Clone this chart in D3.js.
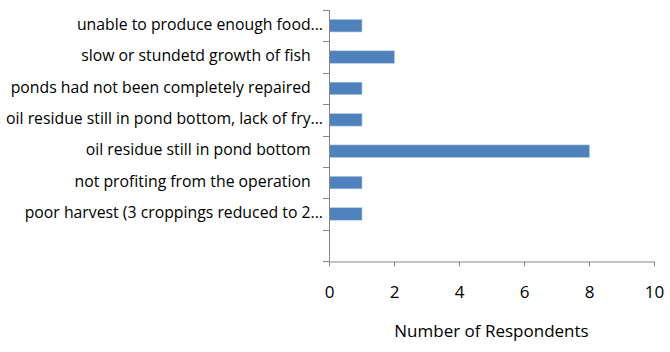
<!DOCTYPE html>
<html>
<head>
<meta charset="utf-8">
<script src="https://cdn.jsdelivr.net/npm/d3@7"></script>
<style>
  body { margin: 0; background: #fff; }
  svg { display: block; font-family: "Open Sans", sans-serif; }
</style>
</head>
<body>
<div id="chart"></div>
<script>
// categories, top to bottom (last slot is empty in the original)
const categories = [
  'unable to produce enough food...',
  'slow or stundetd growth of fish\u00a0\u00a0\u00a0',
  'ponds had not been completely repaired\u00a0\u00a0\u00a0',
  'oil residue still in pond bottom, lack of fry...',
  'oil residue still in pond bottom\u00a0\u00a0\u00a0',
  'not profiting from the operation\u00a0\u00a0\u00a0',
  'poor harvest (3 croppings reduced to 2...',
  ''
];
const respondents = [1, 2, 1, 1, 8, 1, 1, null];
const xTicks = [0, 2, 4, 6, 8, 10];
const xTitle = 'Number of Respondents';

const width = 670, height = 352;
const margin = { top: 10, left: 329, right: 16, bottom: 91 };

const svg = d3.select('#chart').append('svg')
  .attr('width', width)
  .attr('height', height);

const x = d3.scaleLinear()
  .domain([0, 10])
  .range([margin.left, width - margin.right]);

const y = d3.scaleBand()
  .domain(d3.range(categories.length))
  .range([margin.top, height - margin.bottom])
  .paddingInner(0.6)
  .paddingOuter(0.3);

const axisColor = '#868686';
const step = y.step();

// bars
svg.append('g')
  .selectAll('rect')
  .data(respondents.map((v, i) => ({ v, i })).filter(d => d.v != null))
  .enter().append('rect')
  .attr('x', x(0) + 0.5)
  .attr('y', d => y(d.i))
  .attr('width', d => x(d.v) - x(0))
  .attr('height', y.bandwidth())
  .attr('fill', '#4f81bd')
  .attr('stroke', '#b9cde5')
  .attr('stroke-width', 0.6);

// y axis: line with ticks at band boundaries
const yAxis = svg.append('g');
yAxis.append('line')
  .attr('x1', x(0) + 0.5).attr('x2', x(0) + 0.5)
  .attr('y1', margin.top).attr('y2', height - margin.bottom)
  .attr('stroke', axisColor);
yAxis.selectAll('.ytick')
  .data(d3.range(categories.length + 1))
  .enter().append('line')
  .attr('x1', x(0) - 6).attr('x2', x(0) + 0.5)
  .attr('y1', i => Math.round(margin.top + i * step) + 0.5)
  .attr('y2', i => Math.round(margin.top + i * step) + 0.5)
  .attr('stroke', axisColor);

yAxis.selectAll('.ylabel')
  .data(categories)
  .enter().append('text')
  .attr('x', x(0) - 6)
  .attr('y', (d, i) => y(i) + y.bandwidth() / 2)
  .attr('text-anchor', 'end')
  .attr('dominant-baseline', 'middle')
  .attr('font-size', 15.8)
  .attr('fill', '#000')
  .text(d => d);

// x axis
const xAxis = svg.append('g')
  .attr('transform', `translate(0,${Math.round(height - margin.bottom) + 0.5})`)
  .call(d3.axisBottom(x).tickValues(xTicks).tickSize(5).tickPadding(19).tickSizeOuter(0));
xAxis.select('.domain').attr('stroke', axisColor);
xAxis.selectAll('.tick line').attr('stroke', axisColor);
xAxis.selectAll('.tick text')
  .attr('font-family', '"Open Sans", sans-serif')
  .attr('font-size', 17)
  .attr('fill', '#000');

svg.append('text')
  .attr('x', (x(0) + x(10)) / 2)
  .attr('y', 332)
  .attr('text-anchor', 'middle')
  .attr('dominant-baseline', 'middle')
  .attr('font-size', 17)
  .attr('fill', '#000')
  .text(xTitle);
</script>
</body>
</html>
